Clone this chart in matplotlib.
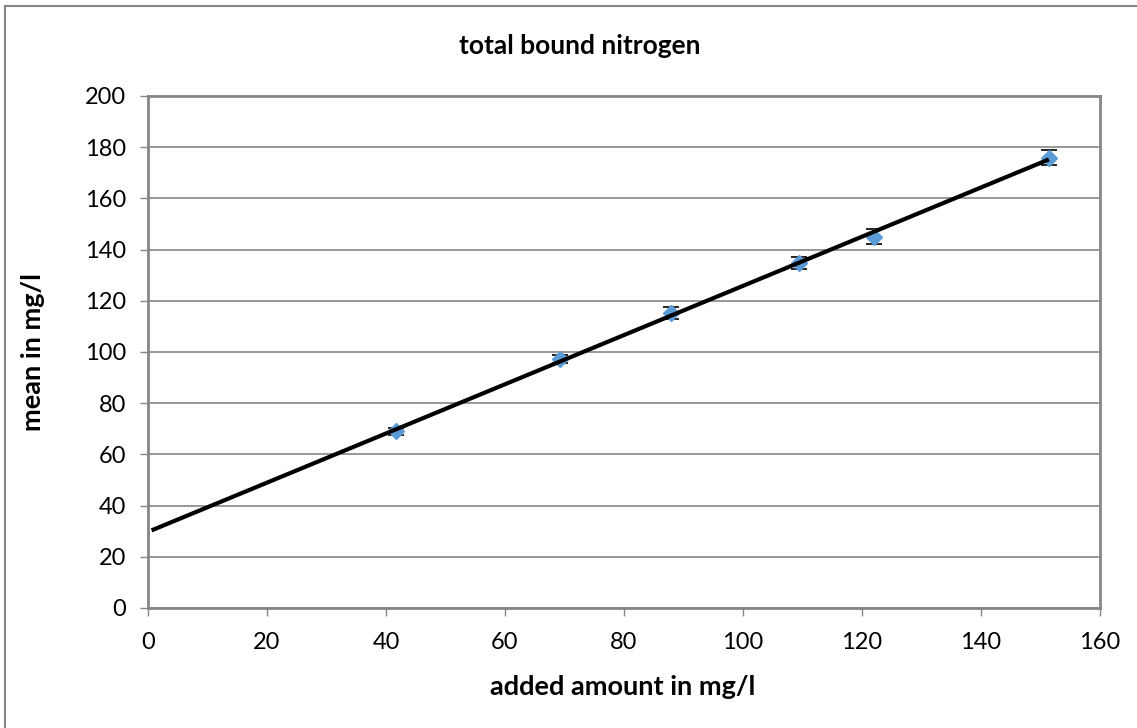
import numpy as np
import matplotlib
matplotlib.use("Agg")
import matplotlib.pyplot as plt
from matplotlib.lines import Line2D

# values
added = [41.7, 69.3, 87.9, 109.4, 122.0, 151.4]
mean = [69.0, 97.3, 115.2, 134.9, 145.1, 175.9]
err = [1.5, 1.5, 2.3, 2.3, 2.9, 2.9]

title = "total bound nitrogen"
xlabel = "added amount in mg/l"
ylabel = "mean in mg/l"
xticks = [0, 20, 40, 60, 80, 100, 120, 140, 160]
yticks = [0, 20, 40, 60, 80, 100, 120, 140, 160, 180, 200]
trend_start = 0.6

plt.rcParams["font.family"] = ["Lato", "DejaVu Sans"]

W, H = 1137, 728
fig = plt.figure(figsize=(W / 100, H / 100), dpi=100)
ax = fig.add_axes([148 / W, (H - 608) / H, (1100 - 148) / W, (608 - 96) / H])

grey = "#868686"

# linear trendline through the points
slope, icpt = np.polyfit(added, mean, 1)
tx = np.array([trend_start, max(added)])
ax.plot(tx, slope * tx + icpt, color="black", lw=3.0, zorder=4, solid_capstyle="butt")

ax.errorbar(added, mean, yerr=err, fmt="D", color="#5B9BD5", ms=8,
            mec="#5B9BD5", ecolor="black", elinewidth=1.2, capsize=6,
            capthick=1.2, zorder=3)

ax.set_xlim(0, 160)
ax.set_ylim(0, 200)
ax.set_xticks(xticks)
ax.set_yticks(yticks)
ax.tick_params(axis="both", direction="out", length=6, width=1, color=grey,
               labelsize=17)
ax.tick_params(axis="x", pad=11)
ax.tick_params(axis="y", pad=10)
ax.yaxis.grid(True, color=grey, lw=1.2)
ax.set_axisbelow(True)
for s in ax.spines.values():
    s.set_color(grey)
    s.set_linewidth(2)

fig.text(580 / W, 1 - 46 / H, title, ha="center", va="center",
         fontsize=19, fontweight="bold")
fig.text(623 / W, 1 - 687 / H, xlabel, ha="center", va="center",
         fontsize=19.5, fontweight="bold")
fig.text(33 / W, 1 - 352 / H, ylabel, ha="center", va="center",
         rotation=90, fontsize=19.5, fontweight="bold")

# chart area border (left and top edges visible)
fig.add_artist(Line2D([5 / W, 5 / W], [0, 1 - 6 / H], transform=fig.transFigure,
                      color=grey, lw=1.5))
fig.add_artist(Line2D([5 / W, 1], [1 - 6 / H, 1 - 6 / H], transform=fig.transFigure,
                      color=grey, lw=1.5))

fig.savefig("out.png", dpi=100)
